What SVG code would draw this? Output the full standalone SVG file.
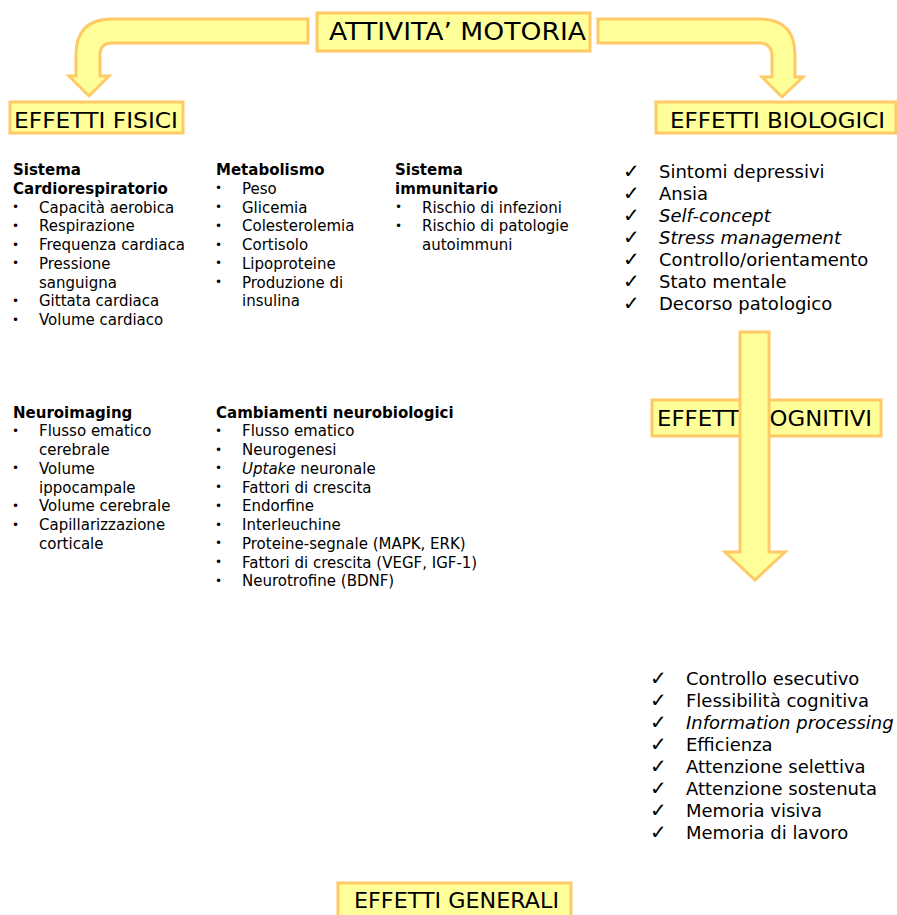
<svg xmlns="http://www.w3.org/2000/svg" width="897" height="915" viewBox="0 0 897 915">
<defs>
<style>
.box{fill:#FFFF99;stroke:#FFC966;stroke-width:3}
.arrow{fill:#FFFF99;stroke:#FFC966;stroke-width:3;stroke-linejoin:miter}
.lbl{font-family:"DejaVu Sans","Verdana",sans-serif;fill:#000}
.t{font-family:"DejaVu Sans","Verdana",sans-serif;font-size:15px;fill:#000}
.h{font-family:"DejaVu Sans","Verdana",sans-serif;font-size:15px;font-weight:bold;fill:#000}
.b{font-family:"DejaVu Sans","Verdana",sans-serif;font-size:12px;fill:#000}
.c{font-family:"DejaVu Sans","Verdana",sans-serif;font-size:18px;fill:#000}
.ck{font-family:"DejaVu Sans",sans-serif;font-size:20px;fill:#000}
.i{font-style:italic}
</style>
</defs>
<rect width="897" height="915" fill="#FFFFFF"/>

<g id="n-attivita">
<rect class="box" x="317" y="13" width="273" height="38"/>
<text class="lbl" x="329" y="39.5" font-size="24" textLength="257" lengthAdjust="spacingAndGlyphs">ATTIVITA’ MOTORIA</text>
</g>

<g id="n-fisici">
<rect class="box" x="10" y="102" width="173" height="31"/>
<text class="lbl" x="14" y="128" font-size="21" textLength="164" lengthAdjust="spacingAndGlyphs">EFFETTI FISICI</text>
</g>

<g id="n-biologici">
<rect class="box" x="656" y="102" width="240" height="31"/>
<text class="lbl" x="670" y="128" font-size="21" textLength="215" lengthAdjust="spacingAndGlyphs">EFFETTI BIOLOGICI</text>
</g>

<g id="list-cardio">
<text class="h" x="13" y="175">Sistema</text>
<text class="h" x="13" y="193.75">Cardiorespiratorio</text>
<text class="b" x="12" y="211">•</text><text class="t" x="39" y="212.5">Capacità aerobica</text>
<text class="b" x="12" y="229.75">•</text><text class="t" x="39" y="231.25">Respirazione</text>
<text class="b" x="12" y="248.5">•</text><text class="t" x="39" y="250">Frequenza cardiaca</text>
<text class="b" x="12" y="267.25">•</text><text class="t" x="39" y="268.75">Pressione</text>
<text class="t" x="39" y="287.5">sanguigna</text>
<text class="b" x="12" y="304.75">•</text><text class="t" x="39" y="306.25">Gittata cardiaca</text>
<text class="b" x="12" y="323.5">•</text><text class="t" x="39" y="325">Volume cardiaco</text>
</g>

<g id="list-metab">
<text class="h" x="216" y="175">Metabolismo</text>
<text class="b" x="215" y="192.25">•</text><text class="t" x="242" y="193.75">Peso</text>
<text class="b" x="215" y="211">•</text><text class="t" x="242" y="212.5">Glicemia</text>
<text class="b" x="215" y="229.75">•</text><text class="t" x="242" y="231.25">Colesterolemia</text>
<text class="b" x="215" y="248.5">•</text><text class="t" x="242" y="250">Cortisolo</text>
<text class="b" x="215" y="267.25">•</text><text class="t" x="242" y="268.75">Lipoproteine</text>
<text class="b" x="215" y="286">•</text><text class="t" x="242" y="287.5">Produzione di</text>
<text class="t" x="242" y="306.25">insulina</text>
</g>

<g id="list-immun">
<text class="h" x="395" y="175">Sistema</text>
<text class="h" x="395" y="193.75">immunitario</text>
<text class="b" x="395" y="211">•</text><text class="t" x="422" y="212.5">Rischio di infezioni</text>
<text class="b" x="395" y="229.75">•</text><text class="t" x="422" y="231.25">Rischio di patologie</text>
<text class="t" x="422" y="250">autoimmuni</text>
</g>

<g id="list-bio">
<text class="ck" x="623" y="178">✓</text><text class="c" x="659" y="178">Sintomi depressivi</text>
<text class="ck" x="623" y="200">✓</text><text class="c" x="659" y="200">Ansia</text>
<text class="ck" x="623" y="222">✓</text><text class="c i" x="659" y="222">Self-concept</text>
<text class="ck" x="623" y="244">✓</text><text class="c i" x="659" y="244">Stress management</text>
<text class="ck" x="623" y="266">✓</text><text class="c" x="659" y="266">Controllo/orientamento</text>
<text class="ck" x="623" y="288">✓</text><text class="c" x="659" y="288">Stato mentale</text>
<text class="ck" x="623" y="310">✓</text><text class="c" x="659" y="310">Decorso patologico</text>
</g>

<g id="list-neuroimg">
<text class="h" x="13" y="417.5">Neuroimaging</text>
<text class="b" x="12" y="434.75">•</text><text class="t" x="39" y="436.25">Flusso ematico</text>
<text class="t" x="39" y="455">cerebrale</text>
<text class="b" x="12" y="472.25">•</text><text class="t" x="39" y="473.75">Volume</text>
<text class="t" x="39" y="492.5">ippocampale</text>
<text class="b" x="12" y="509.75">•</text><text class="t" x="39" y="511.25">Volume cerebrale</text>
<text class="b" x="12" y="528.5">•</text><text class="t" x="39" y="530">Capillarizzazione</text>
<text class="t" x="39" y="548.75">corticale</text>
</g>

<g id="list-neurobio">
<text class="h" x="216" y="417.5">Cambiamenti neurobiologici</text>
<text class="b" x="215" y="434.75">•</text><text class="t" x="242" y="436.25">Flusso ematico</text>
<text class="b" x="215" y="453.5">•</text><text class="t" x="242" y="455">Neurogenesi</text>
<text class="b" x="215" y="472.25">•</text><text class="t" x="242" y="473.75"><tspan font-style="italic">Uptake</tspan> neuronale</text>
<text class="b" x="215" y="491">•</text><text class="t" x="242" y="492.5">Fattori di crescita</text>
<text class="b" x="215" y="509.75">•</text><text class="t" x="242" y="511.25">Endorfine</text>
<text class="b" x="215" y="528.5">•</text><text class="t" x="242" y="530">Interleuchine</text>
<text class="b" x="215" y="547.25">•</text><text class="t" x="242" y="548.75">Proteine-segnale (MAPK, ERK)</text>
<text class="b" x="215" y="566">•</text><text class="t" x="242" y="567.5">Fattori di crescita (VEGF, IGF-1)</text>
<text class="b" x="215" y="584.75">•</text><text class="t" x="242" y="586.25">Neurotrofine (BDNF)</text>
</g>

<g id="n-cognitivi">
<rect class="box" x="652" y="400" width="229" height="36"/>
<text class="lbl" x="657" y="426" font-size="21" textLength="215" lengthAdjust="spacingAndGlyphs">EFFETTI COGNITIVI</text>
</g>

<g id="list-cogn">
<text class="ck" x="650" y="685">✓</text><text class="c" x="686" y="685">Controllo esecutivo</text>
<text class="ck" x="650" y="707">✓</text><text class="c" x="686" y="707">Flessibilità cognitiva</text>
<text class="ck" x="650" y="729">✓</text><text class="c i" x="686" y="729">Information processing</text>
<text class="ck" x="650" y="751">✓</text><text class="c" x="686" y="751">Efficienza</text>
<text class="ck" x="650" y="773">✓</text><text class="c" x="686" y="773">Attenzione selettiva</text>
<text class="ck" x="650" y="795">✓</text><text class="c" x="686" y="795">Attenzione sostenuta</text>
<text class="ck" x="650" y="817">✓</text><text class="c" x="686" y="817">Memoria visiva</text>
<text class="ck" x="650" y="839">✓</text><text class="c" x="686" y="839">Memoria di lavoro</text>
</g>

<g id="n-generali">
<rect class="box" x="338" y="883" width="233" height="40"/>
<text class="lbl" x="354" y="908" font-size="21" textLength="205" lengthAdjust="spacingAndGlyphs">EFFETTI GENERALI</text>
</g>

<g id="connectors">
<path class="arrow" d="M308,19 L112,19 Q76,19 76,55 L76,76 L69,76 L89,96 L109,76 L100,76 L100,55 Q100,43 112,43 L308,43 Z"/>
<path class="arrow" d="M598,19 L759,19 Q795,19 795,55 L795,77 L803,77 L782,97 L762,77 L772,77 L772,56 Q772,43 759,43 L598,43 Z"/>
<path class="arrow" d="M740,332 L769,332 L769,552 L785,552 L755,580 L725,552 L740,552 Z"/>
</g>
</svg>
